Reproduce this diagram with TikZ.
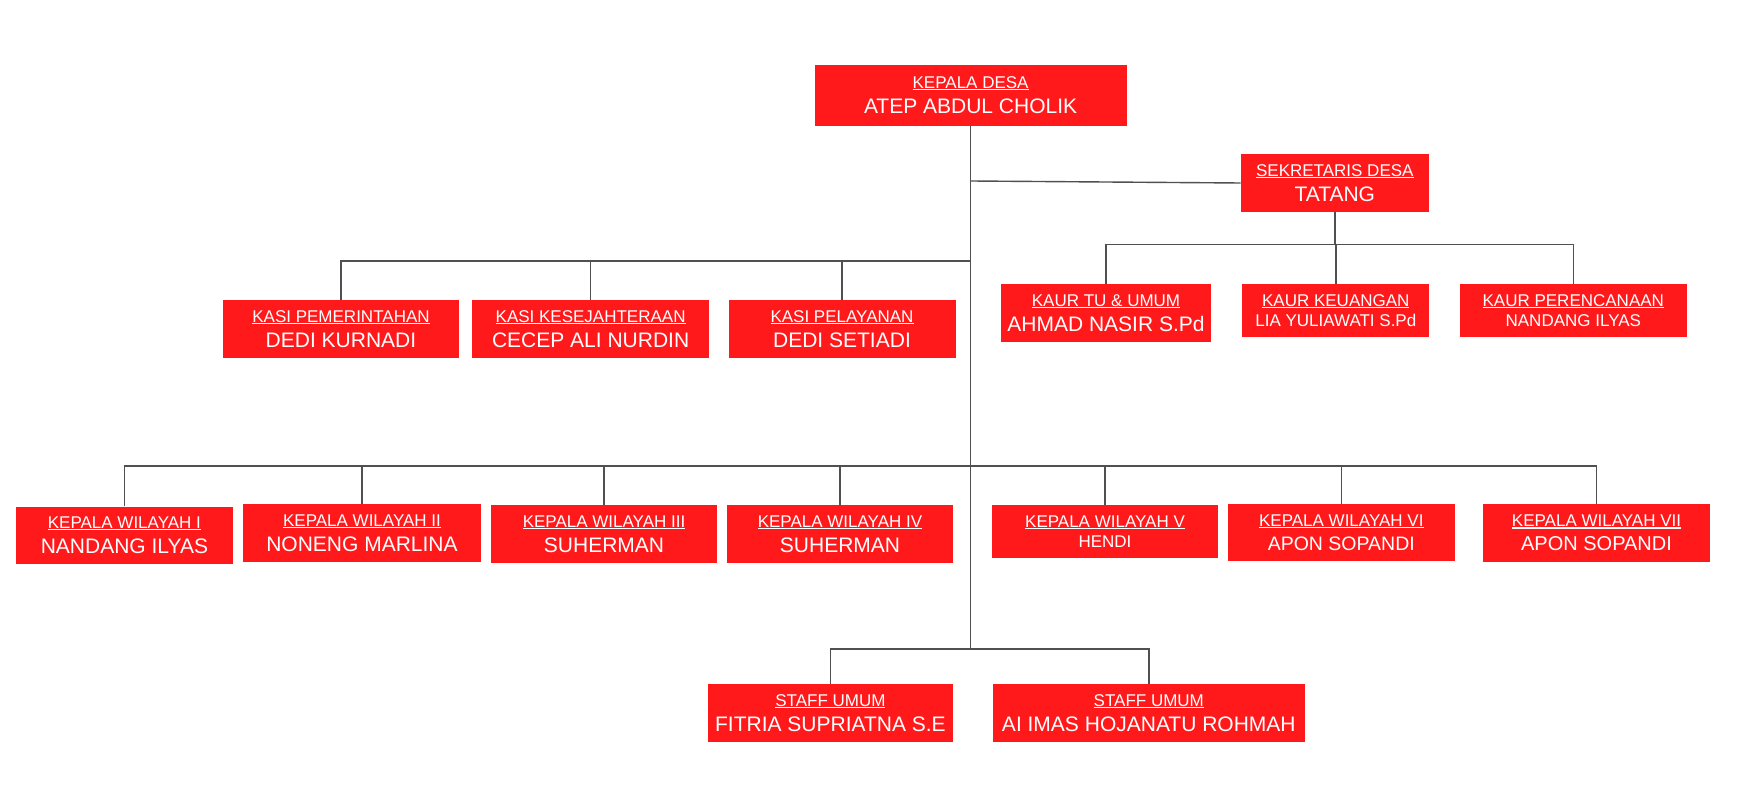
\documentclass[tikz,border=0pt]{standalone}
\usepackage{fontspec}
\setmainfont{Liberation Sans}
\usepackage{tikz}
\usetikzlibrary{calc}
\usepackage{xcolor}
\definecolor{merah}{RGB}{255,25,27}
\definecolor{abu}{RGB}{80,80,80}
\newcommand{\jab}[1]{{\fontsize{17}{25}\selectfont\setbox0=\hbox{#1}\rlap{\rule[-1.8pt]{\wd0}{1.1pt}}\box0}}

\begin{document}
\begin{tikzpicture}[x=1pt,y=-1pt,
kotak/.style={fill=merah,text=white,align=center,inner sep=0pt,font=\fontsize{21}{25}\selectfont},
kecil/.style={font=\fontsize{17}{20}\selectfont},
hubung/.style={draw=abu,line width=1.4pt}]
%\useasboundingbox keeps the white margins
\useasboundingbox (0,0) rectangle (1737,786);

\node[kotak,minimum width=312,minimum height=61] (kades) at (970.6,95.3) {\jab{KEPALA DESA}\\ATEP ABDUL CHOLIK};
\node[kotak,minimum width=188,minimum height=58] (sekdes) at (1334.8,183) {\jab{SEKRETARIS DESA}\\TATANG};

% kaur
\node[kotak,minimum width=210,minimum height=58] (kaurtu) at (1106,313) {\jab{KAUR TU \& UMUM}\\AHMAD NASIR S.Pd};
\node[kotak,kecil,minimum width=187,minimum height=52] (kaurkeu) at (1335.8,310.5) {\jab{KAUR KEUANGAN}\\LIA YULIAWATI S.Pd};
\node[kotak,kecil,minimum width=227,minimum height=53] (kaurren) at (1573.3,310.8) {\jab{KAUR PERENCANAAN}\\NANDANG ILYAS};

% kasi
\node[kotak,minimum width=236,minimum height=58] (kasi1) at (341,329) {\jab{KASI PEMERINTAHAN}\\DEDI KURNADI};
\node[kotak,minimum width=237.5,minimum height=58] (kasi2) at (590.6,329) {\jab{KASI KESEJAHTERAAN}\\CECEP ALI NURDIN};
\node[kotak,minimum width=227,minimum height=58] (kasi3) at (842,329) {\jab{KASI PELAYANAN}\\DEDI SETIADI};

% kepala wilayah
\node[kotak,minimum width=217.5,minimum height=57.3] (wil1) at (124.4,535.3) {\jab{KEPALA WILAYAH I}\\NANDANG ILYAS};
\node[kotak,minimum width=237.5,minimum height=57.4] (wil2) at (362,533) {\jab{KEPALA WILAYAH II}\\NONENG MARLINA};
\node[kotak,minimum width=226,minimum height=57.7] (wil3) at (604,534) {\jab{KEPALA WILAYAH III}\\SUHERMAN};
\node[kotak,minimum width=226,minimum height=57.7] (wil4) at (840,534) {\jab{KEPALA WILAYAH IV}\\SUHERMAN};
\node[kotak,kecil,minimum width=226,minimum height=52.4] (wil5) at (1105,531.5) {\jab{KEPALA WILAYAH V}\\HENDI};
\node[kotak,font=\fontsize{19.5}{24}\selectfont,minimum width=227,minimum height=56.7] (wil6) at (1341.3,532.7) {\jab{KEPALA WILAYAH VI}\\APON SOPANDI};
\node[kotak,font=\fontsize{20}{24}\selectfont,minimum width=226.4,minimum height=57.4] (wil7) at (1596.5,533) {\jab{KEPALA WILAYAH VII}\\APON SOPANDI};

% staff
\node[kotak,minimum width=245,minimum height=58] (staff1) at (830.4,713.3) {\jab{STAFF UMUM}\\FITRIA SUPRIATNA S.E};
\node[kotak,minimum width=312.5,minimum height=58] (staff2) at (1148.8,713.3) {\jab{STAFF UMUM}\\AI IMAS HOJANATU ROHMAH};

\coordinate (sekbar) at (970.6,181);
\coordinate (kasibar) at (970.6,261);
\coordinate (wilbar) at (970.6,466);
\coordinate (staffbar) at (970.6,649);
\coordinate (kaurbar) at (1334.8,244.3);

\draw[hubung] (kades.south) -- (staffbar);
\draw[hubung] (sekbar) -- (sekdes.west);
\draw[hubung] (sekdes.south) -- (kaurbar);
\foreach \n in {kaurtu,kaurkeu,kaurren}
  \draw[hubung] (\n.north) |- (kaurbar);
\foreach \n in {kasi1,kasi2,kasi3}
  \draw[hubung] (\n.north) |- (kasibar);
\foreach \n in {wil1,wil2,wil3,wil4,wil5,wil6,wil7}
  \draw[hubung] (\n.north) |- (wilbar);
\foreach \n in {staff1,staff2}
  \draw[hubung] (\n.north) |- (staffbar);
\end{tikzpicture}
\end{document}
